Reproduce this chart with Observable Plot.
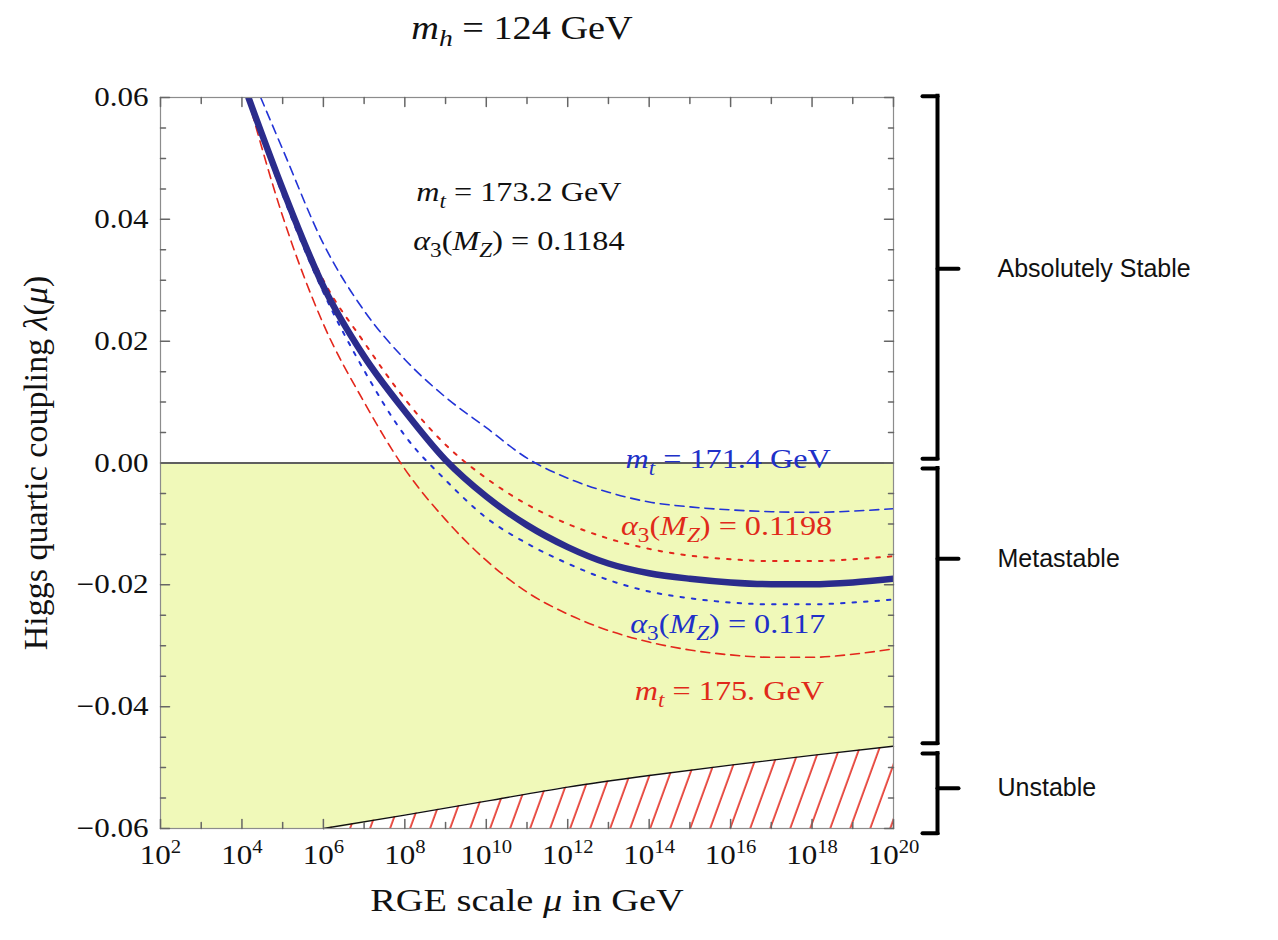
<!DOCTYPE html>
<html>
<head>
<meta charset="utf-8">
<script src="https://cdn.jsdelivr.net/npm/d3@7"></script>
<script src="https://cdn.jsdelivr.net/npm/@observablehq/plot@0.6"></script>
<style>
  body { margin: 0; background: #fff; }
  #title { height: 60px; position: relative; font-family: "Liberation Serif", "Times New Roman", serif; font-size: 33px; color: #111; }
  #title span { position: absolute; left: 522px; top: 10px; transform: translateX(-50%) scaleX(1.16); white-space: nowrap; }
  #title sub { font-size: 0.72em; vertical-align: -0.28em; line-height: 0; }
</style>
</head>
<body>
<div id="title"><span><i>m</i><sub><i>h</i></sub> = 124 GeV</span></div>
<script>
// ---------- data (x = log10 of RGE scale μ in GeV, y = λ(μ)) ----------
const centralL   = [4.16, 5, 6, 7, 8, 9, 10, 11, 12, 13, 14, 15, 16, 17, 18, 19, 20];
const centralLam = [0.060, 0.045, 0.029, 0.0175, 0.0085, 0.0005, -0.0055, -0.0102, -0.0138, -0.0165, -0.0181, -0.0190, -0.0196, -0.0199, -0.0199, -0.0196, -0.0190];

const mt1714L   = [4.46, 5, 6, 7, 8, 9, 10, 11, 12, 13, 14, 15, 16, 17, 18, 19, 20];
const mt1714Lam = [0.060, 0.0515, 0.0360, 0.0250, 0.0170, 0.0108, 0.0058, 0.0008, -0.0025, -0.0048, -0.0064, -0.0072, -0.0077, -0.0080, -0.0081, -0.0079, -0.0075];

const mt175L   = [4.14, 5, 6, 7, 8, 9, 10, 11, 12, 13, 14, 15, 16, 17, 18, 19, 20];
const mt175Lam = [0.060, 0.0405, 0.0228, 0.0100, -0.0010, -0.0093, -0.0160, -0.0212, -0.0248, -0.0275, -0.0294, -0.0307, -0.0315, -0.0319, -0.0319, -0.0314, -0.0305];

const as1198L   = [4.18, 5, 6, 7, 8, 9, 10, 11, 12, 13, 14, 15, 16, 17, 18, 19, 20];
const as1198Lam = [0.060, 0.0455, 0.0300, 0.0198, 0.0105, 0.0030, -0.0025, -0.0068, -0.0100, -0.0124, -0.0141, -0.0152, -0.0158, -0.0161, -0.0161, -0.0158, -0.0153];

const as117L   = [4.15, 5, 6, 7, 8, 9, 10, 11, 12, 13, 14, 15, 16, 17, 18, 19, 20];
const as117Lam = [0.060, 0.0440, 0.0280, 0.0152, 0.0045, -0.0028, -0.0090, -0.0132, -0.0165, -0.0192, -0.0211, -0.0222, -0.0229, -0.0232, -0.0232, -0.0229, -0.0224];

// instability boundary
const boundL   = [6, 8, 10, 12, 14, 16, 18, 20];
const boundLam = [-0.0600, -0.0578, -0.0555, -0.0532, -0.0513, -0.0496, -0.0480, -0.0465];

// axes
const xDomain = [2, 20];
const yDomain = [-0.06, 0.06];
const xTicks = [2, 4, 6, 8, 10, 12, 14, 16, 18, 20];
const xMinorTicks = [3, 5, 7, 9, 11, 13, 15, 17, 19];
const yTicks = [-0.06, -0.04, -0.02, 0, 0.02, 0.04, 0.06];
const yMinorTicks = [-0.055, -0.05, -0.045, -0.035, -0.03, -0.025, -0.015, -0.01, -0.005,
                     0.005, 0.01, 0.015, 0.025, 0.03, 0.035, 0.045, 0.05, 0.055];

// annotations (label text, anchor in data coords)
const annoText = ["m_t = 173.2 GeV", "α_3(M_Z) = 0.1184", "m_t = 171.4 GeV", "α_3(M_Z) = 0.1198", "α_3(M_Z) = 0.117", "m_t = 175. GeV"];
const annoL    = [10.8, 10.8, 15.94, 15.9, 15.93, 15.97];
const annoLam  = [0.0444, 0.0364, 0.0006, -0.0103, -0.0264, -0.0375];
const annoKind = ["black", "black", "blue", "red", "blue", "red"];

// stability regions (bracket spans in λ)
const regionName   = ["Absolutely Stable", "Metastable", "Unstable"];
const regionTop    = [0.0602, -0.0009, -0.0477];
const regionBottom = [0.0007, -0.0460, -0.0608];
const regionMid    = [0.0319, -0.0157, -0.0534];

// ---------- styling ----------
const RED = "#e3271c", BLUE = "#2233d6", NAVY = "#2b2c8c", YELLOW = "#f0f9b9";
const SERIF = "'Liberation Serif', 'Times New Roman', serif";
const SANS = "'Liberation Sans', Arial, Helvetica, sans-serif";
const colorOf = {black: "#111", blue: "#2030c8", red: "#e02a1a"};
const STRETCH = 1.15;

const rows = (Ls, lams) => Ls.map((L, i) => ({L, lam: lams[i]}));
const boundRows = rows(boundL, boundLam);
const floorRows = [{L: xDomain[0], lam: yDomain[0]}, ...boundRows];
const annotations = annoText.map((t, i) => ({t, L: annoL[i], lam: annoLam[i], kind: annoKind[i]}));
const regions = regionName.map((n, i) => ({n, top: regionTop[i], bottom: regionBottom[i], mid: regionMid[i]}));

const tickShape = {draw(ctx, l) { ctx.moveTo(0, 0); ctx.lineTo(0, -l); }};
const TICK = "#666";
const BR_DX = 44;

const curve = (Ls, lams, stroke, dash, w) =>
  Plot.line(rows(Ls, lams), {x: "L", y: "lam", stroke, strokeWidth: w, strokeDasharray: dash, curve: "monotone-x", clip: true});

const svg = Plot.plot({
  width: 1278, height: 880,
  marginTop: 37, marginBottom: 112, marginLeft: 160, marginRight: 385,
  style: {fontFamily: SERIF, background: "#fff", color: "#111"},
  x: {domain: xDomain},
  y: {domain: yDomain},
  marks: [
    Plot.areaY(floorRows, {x: "L", y1: "lam", y2: 0, fill: YELLOW, curve: "monotone-x"}),
    Plot.areaY(boundRows, {x: "L", y1: yDomain[0], y2: "lam", fill: "url(#hatch)", curve: "monotone-x"}),
    Plot.line(boundRows, {x: "L", y: "lam", stroke: "#111", strokeWidth: 1.4, curve: "monotone-x"}),
    Plot.ruleY([0], {stroke: "#5f5f5f", strokeWidth: 1.8}),
    curve(mt175L, mt175Lam, RED, "9,6", 1.6),
    curve(mt1714L, mt1714Lam, BLUE, "9,6", 1.6),
    curve(as1198L, as1198Lam, RED, "3.5,8", 2),
    curve(as117L, as117Lam, BLUE, "3.5,8", 2),
    curve(centralL, centralLam, NAVY, null, 6.5),
    Plot.frame({stroke: "#8c8c8c", strokeWidth: 1.2}),
    // frame ticks (pointing inward)
    Plot.vector(yTicks, {y: d => d, frameAnchor: "left", rotate: 90, length: 9, anchor: "start", shape: tickShape, stroke: TICK}),
    Plot.vector(yMinorTicks, {y: d => d, frameAnchor: "left", rotate: 90, length: 5, anchor: "start", shape: tickShape, stroke: TICK}),
    Plot.vector(yTicks, {y: d => d, frameAnchor: "right", rotate: -90, length: 9, anchor: "start", shape: tickShape, stroke: TICK}),
    Plot.vector(yMinorTicks, {y: d => d, frameAnchor: "right", rotate: -90, length: 5, anchor: "start", shape: tickShape, stroke: TICK}),
    Plot.vector(xTicks, {x: d => d, frameAnchor: "bottom", rotate: 0, length: 9, anchor: "start", shape: tickShape, stroke: TICK}),
    Plot.vector(xMinorTicks, {x: d => d, frameAnchor: "bottom", rotate: 0, length: 6, anchor: "start", shape: tickShape, stroke: TICK}),
    Plot.vector(xTicks, {x: d => d, frameAnchor: "top", rotate: 180, length: 9, anchor: "start", shape: tickShape, stroke: TICK}),
    Plot.vector(xMinorTicks, {x: d => d, frameAnchor: "top", rotate: 180, length: 6, anchor: "start", shape: tickShape, stroke: TICK}),
    // tick labels
    Plot.axisX(xTicks, {anchor: "bottom", tickSize: 0, tickPadding: 16, fontSize: 27, label: null, tickFormat: d => "10^" + d}),
    Plot.axisY(yTicks, {anchor: "left", tickSize: 0, tickPadding: 12, fontSize: 27, label: null, tickFormat: d => d3.format(".2f")(d).replace("-", "−")}),
    // axis titles
    Plot.text(["RGE scale μ in GeV"], {frameAnchor: "bottom", dy: 82, fontSize: 32, fill: "#111", textAnchor: "middle", ariaDescription: "xlabel"}),
    Plot.text(["Higgs quartic coupling λ(μ)"], {frameAnchor: "left", dx: -124, rotate: -90, fontSize: 34, fill: "#111", textAnchor: "middle", ariaDescription: "ylabel"}),
    // annotations
    Plot.text(annotations, {x: "L", y: "lam", text: "t", fill: d => colorOf[d.kind], fontSize: 28, ariaDescription: "annotations"}),
    // stability brackets
    Plot.ruleX(regions, {x: xDomain[1], y1: "top", y2: "bottom", dx: BR_DX, stroke: "#000", strokeWidth: 4, strokeLinecap: "square"}),
    Plot.vector(regions, {x: xDomain[1], y: "top", dx: BR_DX, rotate: -90, length: 15, anchor: "start", shape: tickShape, stroke: "#000", strokeWidth: 4}),
    Plot.vector(regions, {x: xDomain[1], y: "bottom", dx: BR_DX, rotate: -90, length: 15, anchor: "start", shape: tickShape, stroke: "#000", strokeWidth: 4}),
    Plot.vector(regions, {x: xDomain[1], y: "mid", dx: BR_DX, rotate: 90, length: 21, anchor: "start", shape: tickShape, stroke: "#000", strokeWidth: 4}),
    Plot.text(regions, {x: xDomain[1], y: "mid", text: "n", dx: 104, textAnchor: "start", fontSize: 25, fontFamily: SANS, fill: "#111"})
  ]
});

// hatch pattern for the unstable region
svg.insertAdjacentHTML("afterbegin",
  `<defs><pattern id="hatch" patternUnits="userSpaceOnUse" width="18.8" height="40" patternTransform="rotate(20)">` +
  `<line x1="9" y1="-2" x2="9" y2="42" stroke="${RED}" stroke-width="1.6"/></pattern></defs>`);

document.body.appendChild(svg);

// rich text: italics and subscripts
function richSVG(s, fs) {
  const ITAL = new Set(["m", "α", "M", "Z", "λ", "μ"]);
  const runs = [];
  for (let i = 0; i < s.length; i++) {
    let ch = s[i], sub = false;
    if (ch === "_") { sub = true; ch = s[++i]; }
    const ital = ITAL.has(ch) || (sub && /[a-zA-Z]/.test(ch));
    const last = runs[runs.length - 1];
    if (last && last.sub === sub && last.ital === ital) last.t += ch;
    else runs.push({t: ch, sub, ital});
  }
  let prev = false, out = "";
  for (const r of runs) {
    let dy = 0;
    if (r.sub && !prev) dy = 0.25 * fs; else if (!r.sub && prev) dy = -0.25 * fs;
    out += `<tspan${dy ? ` dy="${dy}"` : ""}${r.ital ? ' font-style="italic"' : ""}${r.sub ? ` font-size="${0.72 * fs}"` : ""}>${r.t}</tspan>`;
    prev = r.sub;
  }
  return out;
}
function stretch(el, k) {
  const w = el.getComputedTextLength();
  el.setAttribute("textLength", (w * k).toFixed(1));
  el.setAttribute("lengthAdjust", "spacingAndGlyphs");
}
svg.querySelectorAll('g[aria-description="annotations"] text').forEach((el, i) => { el.innerHTML = richSVG(annotations[i].t, 28); stretch(el, STRETCH); });
svg.querySelectorAll('g[aria-description="xlabel"] text').forEach(el => { el.innerHTML = richSVG(el.textContent, 32); stretch(el, 1.2); });
svg.querySelectorAll('g[aria-description="ylabel"] text').forEach(el => { el.innerHTML = richSVG(el.textContent, 34); });
svg.querySelectorAll('g[aria-label="x-axis tick label"] text').forEach(el => {
  const n = el.textContent.split("^")[1];
  el.innerHTML = `<tspan>10</tspan><tspan dy="-11" font-size="18">${n}</tspan>`;
  stretch(el, STRETCH);
});
svg.querySelectorAll('g[aria-label="y-axis tick label"] text').forEach(el => stretch(el, STRETCH));
</script>
</body>
</html>
